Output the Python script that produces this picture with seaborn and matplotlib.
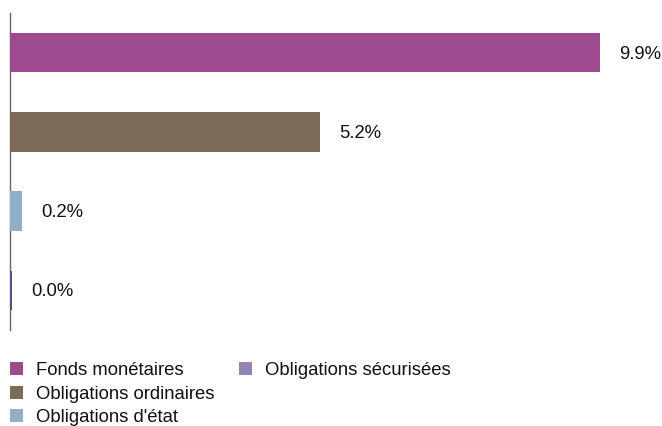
import matplotlib
matplotlib.use("Agg")
import matplotlib.pyplot as plt
import seaborn as sns
import pandas as pd
from matplotlib.patches import Patch

categories = ["Fonds monétaires", "Obligations ordinaires", "Obligations d'état", "Obligations sécurisées"]
values = [9.9, 5.2, 0.2, 0.03]
labels = ["9.9%", "5.2%", "0.2%", "0.0%"]
colors = ["#9E4A91", "#7B6B58", "#8EAECB", "#9384B4"]

sns.set_theme(style="white")
plt.rcParams['font.family'] = ['Liberation Sans', 'DejaVu Sans']

df = pd.DataFrame({"cat": categories, "val": values})

W, H = 662, 426
fig = plt.figure(figsize=(W / 100, H / 100), dpi=100)
ax = fig.add_axes([10 / W, (H - 330) / H, 644 / W, 317 / H])

sns.barplot(data=df, x="val", y="cat", hue="cat", palette=colors, dodge=False,
            legend=False, ax=ax, width=0.5, orient="h", saturation=1,
            linewidth=0, edgecolor="none")
for p in ax.patches:
    p.set_zorder(3)
ax.patches[-1].set_facecolor("#5A4E7A")

ax.set_xlim(0, 10.8)
ax.set_ylim(3.5, -0.5)
for i, (v, lab) in enumerate(zip(values, labels)):
    ax.annotate(lab, (v, i), xytext=(19, -1.5), textcoords="offset pixels",
                va="center", ha="left", fontsize=13.3, color="#111111")

ax.set_xlabel("")
ax.set_ylabel("")
ax.set_xticks([])
ax.set_yticks([])
for s in ["top", "right", "bottom"]:
    ax.spines[s].set_visible(False)
ax.spines["left"].set_color("#666666")
ax.spines["left"].set_linewidth(1.0)
ax.spines["left"].set_zorder(1)

handles = [Patch(facecolor=c, edgecolor="none") for c in colors]
handles.append(Patch(facecolor="none", edgecolor="none"))
leg_labels = categories + [""]
leg = fig.legend(handles, leg_labels, ncol=2, loc="upper left",
                 bbox_to_anchor=(10 / W, 1 - 362 / H), frameon=False, fontsize=13.3,
                 handlelength=0.7, handleheight=0.7, handletextpad=0.7,
                 columnspacing=1.35, labelspacing=0.36, borderaxespad=0, borderpad=0.0)
for t in leg.get_texts():
    t.set_color("#111111")

fig.savefig("out.png", dpi=100)
